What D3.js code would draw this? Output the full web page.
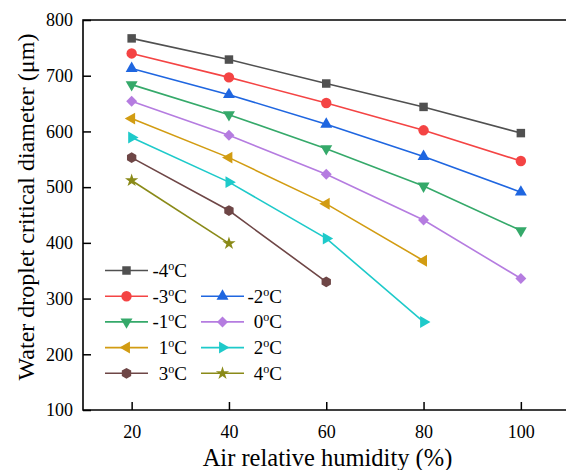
<!DOCTYPE html>
<html><head><meta charset="utf-8">
<script src="https://cdn.jsdelivr.net/npm/d3@7"></script>
<style>body{margin:0;background:#fff}svg{display:block}</style>
</head><body>
<svg id="c" width="566" height="470"></svg>
<script>
const humidity = [20, 40, 60, 80, 100];
const seriesNames = ["-4", "-3", "-2", "-1", "0", "1", "2", "3", "4"];
const tM4 = [767, 729, 686, 644, 597];
const tM3 = [740, 697, 651, 602, 547];
const tM2 = [713, 666, 613, 555, 491];
const tM1 = [684, 630, 569, 502, 422];
const t0 = [654, 593, 523, 441, 336];
const t1 = [623, 553, 470, 368];
const t2 = [589, 509, 408, 258];
const t3 = [553, 458, 330];
const t4 = [512, 399];
const seriesValues = [tM4, tM3, tM2, tM1, t0, t1, t2, t3, t4];
const colors = ["#505050", "#f44444", "#1f66e0", "#35a96a", "#b57ce0", "#d29c12", "#1ecaca", "#6e4646", "#8a8a18"];
const symbols = ["square", "circle", "triUp", "triDown", "diamond", "triLeft", "triRight", "hexagon", "star"];
const yTicks = [100, 200, 300, 400, 500, 600, 700, 800];
const xTicks = [20, 40, 60, 80, 100];

const FONT = '"Liberation Serif"';
const svg = d3.select("#c");
const L = 83, T = 20, B = 410;
const x = d3.scaleLinear().domain([10, 110]).range([L, 569.5]);
const y = d3.scaleLinear().domain([100, 800]).range([B, T]);

function symPath(kind) {
  const g = d3.symbol();
  switch (kind) {
    case "square": return {d: g.type(d3.symbolSquare).size(72)(), rot: 0};
    case "circle": return {d: g.type(d3.symbolCircle).size(85)(), rot: 0};
    case "triUp": return {d: g.type(d3.symbolTriangle).size(62)(), rot: 0};
    case "triDown": return {d: g.type(d3.symbolTriangle).size(62)(), rot: 180};
    case "triLeft": return {d: g.type(d3.symbolTriangle).size(62)(), rot: -90};
    case "triRight": return {d: g.type(d3.symbolTriangle).size(62)(), rot: 90};
    case "diamond": return {d: g.type(d3.symbolSquare).size(60)(), rot: 45};
    case "star": return {d: g.type(d3.symbolStar).size(55)(), rot: 0};
    case "hexagon": {
      const r = 5.4;
      const pts = d3.range(6).map(i => [r * Math.cos(Math.PI / 3 * i), r * Math.sin(Math.PI / 3 * i)]);
      return {d: "M" + pts.map(p => p.join(",")).join("L") + "Z", rot: 90};
    }
  }
}

svg.append("defs").append("clipPath").attr("id", "pc")
  .append("rect").attr("x", L).attr("y", T).attr("width", 566 - L).attr("height", B - T);

const plot = svg.append("g").attr("clip-path", "url(#pc)");
const line = d3.line().x((d, i) => x(humidity[i])).y(d => y(d));

seriesValues.forEach((vals, s) => {
  plot.append("path").attr("d", line(vals)).attr("fill", "none")
    .attr("stroke", colors[s]).attr("stroke-width", 1.6);
  const sp = symPath(symbols[s]);
  plot.selectAll(null).data(vals).enter().append("path")
    .attr("d", sp.d)
    .attr("transform", (d, i) => `translate(${x(humidity[i])},${y(d)}) rotate(${sp.rot})`)
    .attr("fill", colors[s]);
});

const yAxis = d3.axisLeft(y).tickValues(yTicks).tickSize(-8).tickPadding(10);
const gy = svg.append("g").attr("transform", `translate(${L},0)`).call(yAxis);
const xAxis = d3.axisBottom(x).tickValues(xTicks).tickSize(-8).tickPadding(10);
const gx = svg.append("g").attr("transform", `translate(0,${B})`).call(xAxis);
[gx, gy].forEach(g => {
  g.select(".domain").remove();
  g.selectAll(".tick line").attr("stroke", "#000").attr("stroke-width", 1.5);
  g.selectAll(".tick text").style("font-family", FONT).style("font-size", "18px").attr("fill", "#000");
});
gy.selectAll(".tick text").attr("x", -10);
gx.selectAll(".tick text").attr("y", 15);

svg.append("path").attr("d", `M566,${T}H${L}V${B}H566`).attr("fill", "none")
  .attr("stroke", "#000").attr("stroke-width", 1.6);

svg.append("text").attr("x", 327.5).attr("y", 466).attr("text-anchor", "middle")
  .style("font-family", FONT).style("font-size", "24.5px").text("Air relative humidity (%)");
svg.append("text").attr("transform", "translate(34,207) rotate(-90)").attr("text-anchor", "middle")
  .style("font-family", FONT).style("font-size", "24px").text("Water droplet critical diameter (μm)");

const legendPos = [[0, 0], [0, 1], [1, 1], [0, 2], [1, 2], [0, 3], [1, 3], [0, 4], [1, 4]];
const colX = [105, 201];
const textEnd = [187, 282];
const rowY = r => 270.5 + r * 25.7;
seriesNames.forEach((name, s) => {
  const [c, r] = legendPos[s];
  const g = svg.append("g");
  const yy = rowY(r);
  g.append("line").attr("x1", colX[c]).attr("x2", colX[c] + 43).attr("y1", yy).attr("y2", yy)
    .attr("stroke", colors[s]).attr("stroke-width", 1.6);
  const sp = symPath(symbols[s]);
  g.append("path").attr("d", sp.d).attr("fill", colors[s])
    .attr("transform", `translate(${colX[c] + 21.5},${yy}) rotate(${sp.rot})`);
  const t = g.append("text").attr("x", textEnd[c]).attr("y", yy + 6.5).attr("text-anchor", "end")
    .style("font-family", FONT).style("font-size", "19px").attr("fill", "#000");
  t.append("tspan").text(name);
  t.append("tspan").style("font-size", "12px").attr("dy", -7).text("o");
  t.append("tspan").attr("dy", 7).text("C");
});
</script>
</body></html>
